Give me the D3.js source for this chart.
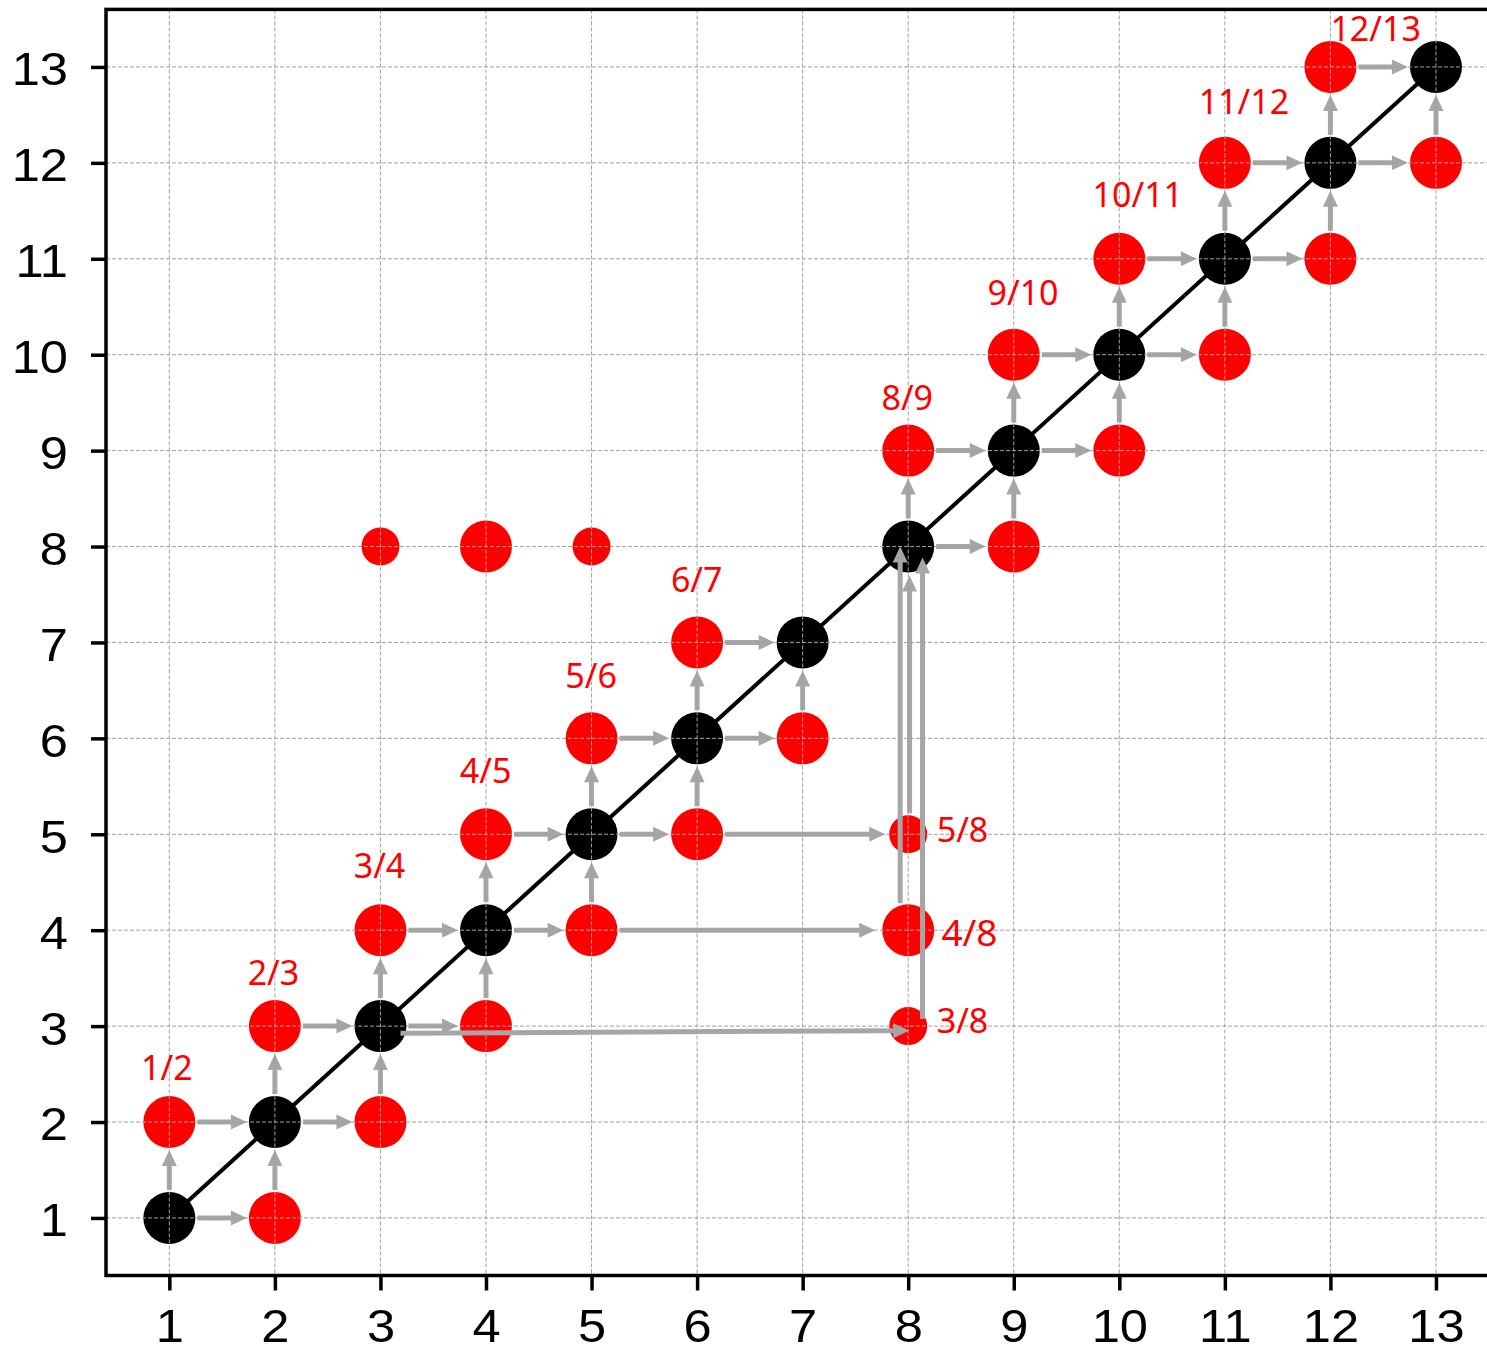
<!DOCTYPE html>
<html>
<head>
<meta charset="utf-8">
<script src="https://cdn.jsdelivr.net/npm/d3@7"></script>
<style>
  html, body { margin: 0; padding: 0; background: #ffffff; }
  svg { display: block; }
</style>
</head>
<body>
<svg id="chart" width="1487" height="1352"></svg>
<script>
// ---------------- data ----------------
const tickValues = [1, 2, 3, 4, 5, 6, 7, 8, 9, 10, 11, 12, 13];

// black nodes on the diagonal (x = y)
const diagonalNodes = [1, 2, 3, 4, 5, 6, 7, 8, 9, 10, 11, 12, 13];

// red nodes, large
const redNodesLarge = [
  [1, 2], [2, 1], [2, 3], [3, 2], [3, 4], [4, 3], [4, 5], [5, 4],
  [5, 6], [6, 5], [6, 7], [7, 6], [8, 9], [9, 8], [9, 10], [10, 9],
  [10, 11], [11, 10], [11, 12], [12, 11], [12, 13], [13, 12],
  [4, 8], [8, 4]
];
// red nodes, small
const redNodesSmall = [[3, 8], [5, 8], [8, 3], [8, 5]];

// unit step arrows between neighbouring nodes: [x1, y1, x2, y2]
const stepArrows = [
  [1, 1, 2, 1], [1, 1, 1, 2], [1, 2, 2, 2], [2, 1, 2, 2],
  [2, 2, 3, 2], [2, 2, 2, 3], [2, 3, 3, 3], [3, 2, 3, 3],
  [3, 3, 4, 3], [3, 3, 3, 4], [3, 4, 4, 4], [4, 3, 4, 4],
  [4, 4, 5, 4], [4, 4, 4, 5], [4, 5, 5, 5], [5, 4, 5, 5],
  [5, 5, 6, 5], [5, 5, 5, 6], [5, 6, 6, 6], [6, 5, 6, 6],
  [6, 6, 7, 6], [6, 6, 6, 7], [6, 7, 7, 7], [7, 6, 7, 7],
  [8, 8, 9, 8], [8, 8, 8, 9], [8, 9, 9, 9], [9, 8, 9, 9],
  [9, 9, 10, 9], [9, 9, 9, 10], [9, 10, 10, 10], [10, 9, 10, 10],
  [10, 10, 11, 10], [10, 10, 10, 11], [10, 11, 11, 11], [11, 10, 11, 11],
  [11, 11, 12, 11], [11, 11, 11, 12], [11, 12, 12, 12], [12, 11, 12, 12],
  [12, 12, 13, 12], [12, 12, 12, 13], [12, 13, 13, 13], [13, 12, 13, 13]
];

// long jump arrows: [x1, y1, x2, y2]
const jumpArrows = [
  [5, 4, 8, 4],
  [6, 5, 8, 5],
  [3.19, 2.926, 8.01, 2.953],
  [7.924, 4, 7.924, 8],
  [8.013, 5, 8.013, 8],
  [8.136, 3, 8.136, 8]
];
// gaps (px) left at the start / end of each jump arrow
const jumpGapStart = [28, 28, 0, 27, 21, 7];
const jumpGapEnd = [33, 23, 0, 0, 29, 11];

// fraction labels above the nodes
const pairLabels = ["1/2", "2/3", "3/4", "4/5", "5/6", "6/7", "8/9", "9/10", "10/11", "11/12", "12/13"];
const pairLabelX = [0.732, 1.742, 2.747, 3.752, 4.752, 5.752, 7.747, 8.752, 9.747, 10.752, 12.0];
const pairLabelY = [2.435, 3.425, 4.545, 5.535, 6.525, 7.525, 9.425, 10.515, 11.545, 12.51, 13.275];

// fraction labels beside column 8
const sideLabels = ["5/8", "4/8", "3/8"];
const sideLabelX = [8.27, 8.315, 8.27];
const sideLabelY = [4.92, 3.84, 2.925];

// ---------------- layout ----------------
const svg = d3.select("#chart");
const mLeft = 106, mTop = 9.4;
const plotW = 1393.3, plotH = 1266.1;

const x = d3.scaleLinear().domain([0.4, 13.6]).range([mLeft, mLeft + plotW]);
const y = d3.scaleLinear().domain([0.4, 13.6]).range([mTop + plotH, mTop]);

const arrowColor = "#a6a6a6";
const rBig = 26, rSmall = 19;

// diagonal line
svg.append("line")
  .attr("x1", x(1)).attr("y1", y(1))
  .attr("x2", x(13)).attr("y2", y(13))
  .attr("stroke", "#000").attr("stroke-width", 4);

// nodes
svg.append("g").selectAll("circle").data(redNodesLarge).join("circle")
  .attr("cx", d => x(d[0])).attr("cy", d => y(d[1])).attr("r", rBig)
  .attr("fill", "#ff0000");
svg.append("g").selectAll("circle").data(redNodesSmall).join("circle")
  .attr("cx", d => x(d[0])).attr("cy", d => y(d[1])).attr("r", rSmall)
  .attr("fill", "#ff0000");
svg.append("g").selectAll("circle").data(diagonalNodes).join("circle")
  .attr("cx", d => x(d)).attr("cy", d => y(d)).attr("r", rBig)
  .attr("fill", "#000000");

// arrows
const arrowG = svg.append("g");
function drawArrow(a, gapA, gapB) {
  const px1 = x(a[0]), py1 = y(a[1]), px2 = x(a[2]), py2 = y(a[3]);
  const dx = px2 - px1, dy = py2 - py1;
  const len = Math.hypot(dx, dy);
  const ux = dx / len, uy = dy / len;
  const sx = px1 + ux * gapA, sy = py1 + uy * gapA;
  const tx = px2 - ux * gapB, ty = py2 - uy * gapB;
  const headL = 16, headW = 15;
  const bx = tx - ux * headL, by = ty - uy * headL;
  arrowG.append("line")
    .attr("x1", sx).attr("y1", sy)
    .attr("x2", bx + ux * 1).attr("y2", by + uy * 1)
    .attr("stroke", arrowColor).attr("stroke-width", 5);
  const nx = -uy, ny = ux;
  arrowG.append("path")
    .attr("d", `M${tx},${ty}L${bx + nx * headW / 2},${by + ny * headW / 2}L${bx - nx * headW / 2},${by - ny * headW / 2}Z`)
    .attr("fill", arrowColor);
}
stepArrows.forEach(a => drawArrow(a, 28, 28));
jumpArrows.forEach((a, i) => drawArrow(a, jumpGapStart[i], jumpGapEnd[i]));

// grid (drawn on top, as in the reference)
const gridG = svg.append("g");
gridG.selectAll("line.v").data(tickValues).join("line").attr("class", "v")
  .attr("x1", d => x(d)).attr("x2", d => x(d))
  .attr("y1", mTop).attr("y2", mTop + plotH)
  .attr("stroke", "#a0a0a0").attr("stroke-width", 1).attr("stroke-dasharray", "4,2");
gridG.selectAll("line.h").data(tickValues).join("line").attr("class", "h")
  .attr("y1", d => y(d)).attr("y2", d => y(d))
  .attr("x1", mLeft).attr("x2", mLeft + plotW)
  .attr("stroke", "#a0a0a0").attr("stroke-width", 1).attr("stroke-dasharray", "4,2");

// labels
const labelFont = "'Noto Sans', 'Open Sans', sans-serif";
svg.append("g").selectAll("text").data(pairLabels).join("text")
  .attr("x", (d, i) => x(pairLabelX[i]))
  .attr("y", (d, i) => y(pairLabelY[i]))
  .attr("font-family", labelFont).attr("font-size", 34)
  .attr("fill", "#ff0000")
  .text(d => d);
svg.append("g").selectAll("text").data(sideLabels).join("text")
  .attr("x", (d, i) => x(sideLabelX[i]))
  .attr("y", (d, i) => y(sideLabelY[i]))
  .attr("font-family", labelFont).attr("font-size", (d, i) => i === 1 ? 37 : 34)
  .attr("fill", "#ff0000")
  .text(d => d);

// axes
const axisFont = "'Liberation Sans', Arial, sans-serif";
const stretch = 1.1;
const xAxis = svg.append("g").attr("transform", `translate(0,${mTop + plotH})`)
  .call(d3.axisBottom(x).tickValues(tickValues).tickFormat(d3.format("d"))
    .tickSize(15).tickSizeOuter(0).tickPadding(18.8));
const yAxis = svg.append("g").attr("transform", `translate(${mLeft},0)`)
  .call(d3.axisLeft(y).tickValues(tickValues).tickFormat(d3.format("d"))
    .tickSize(15).tickSizeOuter(0).tickPadding(23));
[xAxis, yAxis].forEach(g => {
  g.select(".domain").remove();
  g.selectAll(".tick line").attr("stroke", "#000").attr("stroke-width", 3.5);
  g.selectAll(".tick text").attr("font-family", axisFont).attr("font-size", 46).attr("fill", "#000")
    .attr("transform", `scale(${stretch},1)`);
});
yAxis.selectAll(".tick text").attr("dy", "0.39em").attr("x", -38 / stretch);

// frame
svg.append("rect")
  .attr("x", mLeft).attr("y", mTop)
  .attr("width", plotW).attr("height", plotH)
  .attr("fill", "none").attr("stroke", "#000").attr("stroke-width", 3.5);
</script>
</body>
</html>
